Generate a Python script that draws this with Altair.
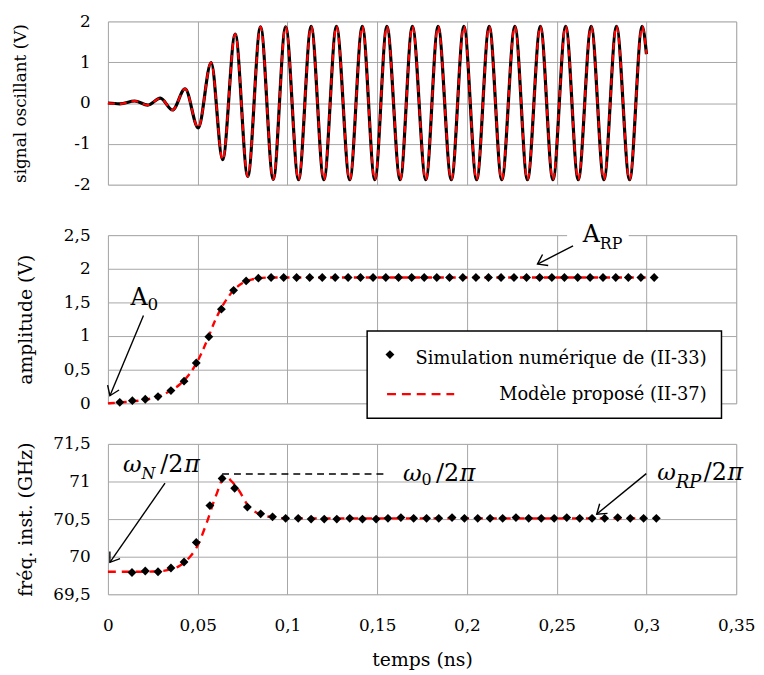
import math
import altair as alt
import pandas as pd

FONT = "DejaVu Serif"
GRID = "#a6a6a6"
RED = "#ff0000"

# ---------------- data ----------------
# top panel: oscillating signal (extrema of the waveform), time in ns, volts
sig_t = [0, 0.0066, 0.0149, 0.0222, 0.0292, 0.0360, 0.0430, 0.0503, 0.0575, 0.0639,
         0.0709, 0.0779, 0.0850, 0.0921, 0.0990, 0.1062, 0.1132, 0.1203, 0.1273, 0.1347,
         0.1417, 0.1487, 0.1554, 0.1628, 0.1696, 0.1771, 0.1839, 0.1913, 0.1983, 0.2054,
         0.2124, 0.2194, 0.2267, 0.2337, 0.2409, 0.2479, 0.2550, 0.2620, 0.2692, 0.2763,
         0.2833, 0.2906, 0.2976, 0.3000]
sig_v = [0, -0.02, 0.05, -0.05, 0.12, -0.17, 0.35, -0.61, 0.99, -1.39,
         1.69, -1.80, 1.87, -1.87, 1.87, -1.88, 1.88, -1.88, 1.88, -1.88,
         1.88, -1.88, 1.88, -1.88, 1.88, -1.88, 1.88, -1.88, 1.88, -1.88,
         1.88, -1.88, 1.88, -1.88, 1.88, -1.88, 1.88, -1.88, 1.88, -1.88,
         1.88, -1.88, 1.88, 1.20]

# middle panel: amplitude
amp_sim_t = [0.0066, 0.0136, 0.0208, 0.0279, 0.0351, 0.0424, 0.0492, 0.0562, 0.0632, 0.0700,
             0.0770, 0.0838, 0.0909, 0.0979, 0.1051, 0.1124, 0.1194, 0.1266, 0.1338, 0.1407,
             0.1477, 0.1548, 0.1619, 0.1692, 0.1762, 0.1832, 0.1903, 0.1977, 0.2050, 0.2120,
             0.2190, 0.2262, 0.2332, 0.2405, 0.2473, 0.2543, 0.2617, 0.2686, 0.2758, 0.2829,
             0.2899, 0.2969, 0.3043]
amp_sim_v = [0.015, 0.04, 0.06, 0.10, 0.19, 0.33, 0.60, 0.99, 1.40, 1.68,
             1.82, 1.86] + [1.87] * 31
amp_mod_t = [0, 0.01, 0.02, 0.03, 0.035, 0.04, 0.045, 0.05, 0.055, 0.06,
             0.065, 0.07, 0.075, 0.08, 0.09, 0.30]
amp_mod_v = [0.0, 0.02, 0.05, 0.12, 0.19, 0.28, 0.42, 0.63, 0.92, 1.25,
             1.50, 1.68, 1.79, 1.84, 1.87, 1.87]

# bottom panel: instantaneous frequency (GHz)
frq_sim_t = [0.0134, 0.0208, 0.0279, 0.0351, 0.0424, 0.0492, 0.0568, 0.0636, 0.0706, 0.0777,
             0.0851, 0.0917, 0.0990, 0.1060, 0.1132, 0.1205, 0.1275, 0.1347, 0.1418, 0.1494,
             0.1560, 0.1632, 0.1703, 0.1775, 0.1843, 0.1917, 0.1986, 0.2060, 0.2129, 0.2199,
             0.2273, 0.2344, 0.2414, 0.2486, 0.2556, 0.2628, 0.2697, 0.2767, 0.2840, 0.2910,
             0.2984, 0.3055]
frq_sim_v = [69.79, 69.81, 69.80, 69.85, 69.93, 70.19, 70.68, 71.04, 70.91, 70.66,
             70.57, 70.53, 70.51, 70.51, 70.50, 70.50, 70.50, 70.51, 70.50, 70.50,
             70.51, 70.52, 70.51, 70.51, 70.51, 70.52, 70.51, 70.51, 70.51, 70.51,
             70.52, 70.51, 70.51, 70.51, 70.52, 70.51, 70.51, 70.51, 70.52, 70.51,
             70.51, 70.51]
frq_mod_t = [0, 0.01, 0.02, 0.03, 0.035, 0.04, 0.045, 0.05, 0.055, 0.06,
             0.0654, 0.069, 0.073, 0.078, 0.084, 0.09, 0.10, 0.30]
frq_mod_v = [69.80, 69.80, 69.80, 69.81, 69.83, 69.88, 69.98, 70.15, 70.45, 70.80,
             71.07, 71.00, 70.88, 70.68, 70.57, 70.53, 70.51, 70.51]
omega0_level = [71.1]
omega0_span = [0.0636, 0.1555]

x_ticks = [0, 0.05, 0.1, 0.15, 0.2, 0.25, 0.3, 0.35]
sig_ticks = [-2, -1, 0, 1, 2]
amp_ticks = [0, 0.5, 1, 1.5, 2, 2.5]
frq_ticks = [69.5, 70, 70.5, 71, 71.5]

# annotations (data coordinates)
mid_arrows = [(0.0198, 1.304, 0.0011, 0.113), (0.2591, 2.34, 0.2393, 2.07)]
bot_arrows = [(0.0318, 70.978, 0.0011, 69.925), (0.2999, 71.105, 0.2723, 70.566)]
mid_text_right = [("A", 0.0221, 1.456, 24), ("A", 0.274, 2.397, 24),
                  ("Simulation numérique de (II-33)", 0.3335, 0.58, 18),
                  ("Modèle proposé (II-37)", 0.3335, 0.05, 18)]
mid_text_left = [("0", 0.0221, 1.38, 17), ("RP", 0.274, 2.294, 16)]
bot_text_it_right = [("ω", 0.01874, 71.132, 23), ("ω", 0.17475, 71.0, 23), ("ω", 0.31642, 71.02, 23)]
bot_text_it_left = [("N", 0.01874, 71.039, 16), ("π", 0.0425, 71.132, 24),
                    ("π", 0.1960, 71.0, 24), ("RP", 0.31642, 70.91, 18), ("π", 0.3451, 71.02, 24)]
bot_text_left = [("/2", 0.0292, 71.132, 24), ("0", 0.17475, 70.96, 16),
                 ("/2", 0.1828, 71.0, 24), ("/2", 0.3319, 71.02, 24)]
legend_box = (0.1444, 1.074, 0.3418, -0.22)
legend_marker = (0.1571, 0.725)
legend_dash = (0.1555, 0.1929, 0.137)
arp_mask = (0.2558, 2.66, 0.2901, 2.34)

# ---------------- layout ----------------
W = 635
H1, H2, H3 = 165, 170, 152
LBL = "replace(toString(datum.value), '.', ',')"

xs = alt.Scale(domain=[0, 0.35], nice=False, zero=False)


def x_axis(show):
    if show:
        return alt.Axis(values=x_ticks, title="temps (ns)", labelExpr=LBL, labelFont=FONT,
                        labelFontSize=17, labelColor="black", labelPadding=24, labelFlush=False,
                        ticks=False, tickSize=0, domain=False, grid=True, gridColor=GRID,
                        titleFont=FONT, titleFontSize=19, titleFontWeight="normal",
                        titleColor="black", titlePadding=17)
    return alt.Axis(values=x_ticks, labels=False, ticks=False, tickSize=0, domain=False,
                    title=None, grid=True, gridColor=GRID)


def y_axis(title, values, tx, tsize=19):
    return alt.Axis(values=values, title=title, titleX=tx, titleAngle=270,
                    titleBaseline="middle", titleAlign="center", titleFont=FONT,
                    titleFontSize=tsize, titleFontWeight="normal", titleColor="black",
                    labelFont=FONT, labelFontSize=17, labelColor="black", labelPadding=18,
                    labelFlush=False, labelExpr=LBL, ticks=False, tickSize=0, domain=False,
                    grid=True, gridColor=GRID)


def enc(ch, ys, xa, ya, x2=False, y2=False):
    kw = dict(x=alt.X("t:Q", scale=xs, axis=xa), y=alt.Y("v:Q", scale=ys, axis=ya))
    if x2:
        kw["x2"] = alt.X2("t2:Q")
    if y2:
        kw["y2"] = alt.Y2("v2:Q")
    return ch.encode(**kw)


def arrow_layers(arrows, ys, xa, ya, ppx, ppy):
    rows = []
    for t0, v0, t1, v1 in arrows:
        ang = math.degrees(math.atan2(-(v1 - v0) * ppy, (t1 - t0) * ppx)) % 360
        rows.append({"t": t0, "v": v0, "t2": t1, "v2": v1, "ang": ang})
    df = pd.DataFrame(rows)
    shaft = enc(alt.Chart(df).mark_rule(color="black", strokeWidth=1.4), ys, xa, ya, True, True)
    head_df = df[["t2", "v2", "ang"]].rename(columns={"t2": "t", "v2": "v"})
    head = enc(alt.Chart(head_df).mark_point(shape="M -1 -0.7 L 0 0 L -1 0.7", filled=False,
                                             stroke="black", strokeWidth=1.4, size=320, opacity=1),
               ys, xa, ya).encode(angle=alt.Angle("ang:Q", scale=None))
    return [shaft, head]


def text_layer(items, ys, xa, ya, align, italic=False):
    df = pd.DataFrame(items, columns=["s", "t", "v", "fs"])
    mk = dict(align=align, baseline="alphabetic", font=FONT, color="black")
    if italic:
        mk["fontStyle"] = "italic"
    return enc(alt.Chart(df).mark_text(**mk), ys, xa, ya).encode(
        text="s:N", size=alt.Size("fs:Q", scale=None, legend=None))


# ---- top panel
ys1 = alt.Scale(domain=[-2, 2], nice=False, zero=False)
xa1 = x_axis(False)
ya1 = y_axis("signal oscillant (V)", sig_ticks, -88, 17)
sig_df = pd.DataFrame({"t": sig_t, "v": sig_v})
top = alt.layer(
    enc(alt.Chart(sig_df).mark_line(color="black", strokeWidth=3.2, interpolate="monotone"), ys1, xa1, ya1),
    enc(alt.Chart(sig_df).mark_line(color=RED, strokeWidth=2.2, strokeDash=[7, 5], interpolate="monotone"), ys1, xa1, ya1),
).properties(width=W, height=H1)

# ---- middle panel
ys2 = alt.Scale(domain=[0, 2.5], nice=False, zero=False)
xa2 = x_axis(False)
ya2 = y_axis("amplitude (V)", amp_ticks, -83)
amp_mod_df = pd.DataFrame({"t": amp_mod_t, "v": amp_mod_v})
amp_sim_df = pd.DataFrame({"t": amp_sim_t, "v": amp_sim_v})
mask_df = pd.DataFrame([{"t": arp_mask[0], "v": arp_mask[1], "t2": arp_mask[2], "v2": arp_mask[3]}])
box_df = pd.DataFrame([{"t": legend_box[0], "v": legend_box[1], "t2": legend_box[2], "v2": legend_box[3]}])
lm_df = pd.DataFrame([{"t": legend_marker[0], "v": legend_marker[1]}])
ld_df = pd.DataFrame([{"t": legend_dash[0], "t2": legend_dash[1], "v": legend_dash[2]}])

mid_layers = [
    enc(alt.Chart(amp_mod_df).mark_line(color=RED, strokeWidth=2.4, strokeDash=[7, 5], interpolate="monotone"), ys2, xa2, ya2),
    enc(alt.Chart(amp_sim_df).mark_point(shape="diamond", filled=True, color="black", size=80, opacity=1), ys2, xa2, ya2),
    enc(alt.Chart(mask_df).mark_rect(color="white"), ys2, xa2, ya2, True, True),
]
mid_layers += arrow_layers(mid_arrows, ys2, xa2, ya2, W / 0.35, H2 / 2.5)
mid_layers += [
    enc(alt.Chart(box_df).mark_rect(fill="white", stroke="black", strokeWidth=1.5), ys2, xa2, ya2, True, True),
    enc(alt.Chart(lm_df).mark_point(shape="diamond", filled=True, color="black", size=80, opacity=1), ys2, xa2, ya2),
    enc(alt.Chart(ld_df).mark_rule(color=RED, strokeWidth=2.4, strokeDash=[9, 6]), ys2, xa2, ya2, True, False),
    text_layer(mid_text_right, ys2, xa2, ya2, "right"),
    text_layer(mid_text_left, ys2, xa2, ya2, "left"),
]
mid = alt.layer(*mid_layers).properties(width=W, height=H2)

# ---- bottom panel
ys3 = alt.Scale(domain=[69.5, 71.5], nice=False, zero=False)
xa3 = x_axis(True)
ya3 = y_axis("fréq. inst. (GHz)", frq_ticks, -83)
frq_mod_df = pd.DataFrame({"t": frq_mod_t, "v": frq_mod_v})
frq_sim_df = pd.DataFrame({"t": frq_sim_t, "v": frq_sim_v})
o0_df = pd.DataFrame([{"t": omega0_span[0], "t2": omega0_span[1], "v": omega0_level[0]}])
bot_layers = [
    enc(alt.Chart(o0_df).mark_rule(color="black", strokeWidth=1.4, strokeDash=[7, 5]), ys3, xa3, ya3, True, False),
    enc(alt.Chart(frq_mod_df).mark_line(color=RED, strokeWidth=2.4, strokeDash=[8, 6], interpolate="monotone"), ys3, xa3, ya3),
    enc(alt.Chart(frq_sim_df).mark_point(shape="diamond", filled=True, color="black", size=80, opacity=1), ys3, xa3, ya3),
]
bot_layers += arrow_layers(bot_arrows, ys3, xa3, ya3, W / 0.35, H3 / 2.0)
bot_layers += [
    text_layer(bot_text_it_right, ys3, xa3, ya3, "right", True),
    text_layer(bot_text_it_left, ys3, xa3, ya3, "left", True),
    text_layer(bot_text_left, ys3, xa3, ya3, "left"),
]
bot = alt.layer(*bot_layers).properties(width=W, height=H3)


def spacer(h):
    return alt.Chart(pd.DataFrame({"t": [0]})).mark_point(opacity=0).encode(
        x=alt.value(0), y=alt.value(0)).properties(
        width=W, height=h, view=alt.ViewBackground(strokeOpacity=0))


chart = alt.vconcat(top, spacer(51), mid, spacer(41), bot, spacing=0, bounds="flush").configure_view(
    stroke="#999999", strokeWidth=1).configure(font=FONT).properties(
    padding={"left": 3, "top": 0, "right": 0, "bottom": 0}, background="white")

chart.save("out.html", embed_options={"renderer": "svg", "actions": False})
